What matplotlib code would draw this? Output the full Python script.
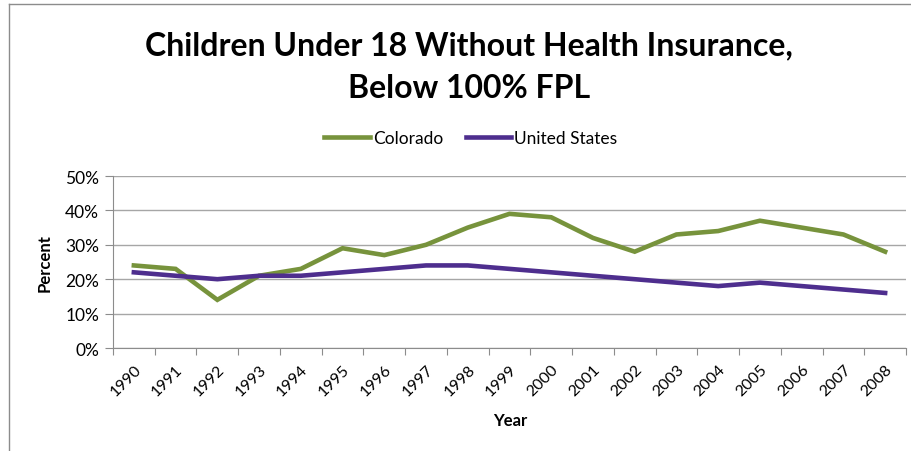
import matplotlib
matplotlib.use('Agg')
import matplotlib.pyplot as plt
import matplotlib.transforms as mtransforms
from matplotlib.lines import Line2D

years = [str(y) for y in range(1990, 2009)]
colorado = [24, 23, 14, 21, 23, 29, 27, 30, 35, 39, 38, 32, 28, 33, 34, 37, 35, 33, 28]
united_states = [22, 21, 20, 21, 21, 22, 23, 24, 24, 23, 22, 21, 20, 19, 18, 19, 18, 17, 16]
y_ticks = [0, 10, 20, 30, 40, 50]

plt.rcParams['font.family'] = ['Lato', 'DejaVu Sans']

W, H = 911, 452
fig = plt.figure(figsize=(W / 100, H / 100), dpi=100)

# outer chart frame (cropped on right/bottom like the screenshot)
fig.add_artist(Line2D([9 / W, 9 / W], [0, 1 - 5 / H], transform=fig.transFigure,
                      color='#8c8c8c', lw=1))
fig.add_artist(Line2D([9 / W, 1], [1 - 5 / H, 1 - 5 / H], transform=fig.transFigure,
                      color='#8c8c8c', lw=1))

left, right, top, bottom = 113, 906, 177, 349
ax = fig.add_axes([left / W, 1 - bottom / H, (right - left) / W, (bottom - top) / H])

x = list(range(len(years)))
ax.plot(x, colorado, color='#77933C', lw=3.3, solid_joinstyle='miter', label='Colorado', zorder=3)
ax.plot(x, united_states, color='#4E2E8E', lw=3.3, solid_joinstyle='miter', label='United States', zorder=3)

ax.set_xlim(-0.5, len(years) - 0.5)
ax.set_ylim(0, 50)
ax.set_yticks(y_ticks)
ax.set_yticklabels([f'{v}%' for v in y_ticks], fontsize=12.5)
ax.yaxis.grid(True, color='#a6a6a6', lw=1)
ax.set_axisbelow(True)

ax.set_xticks([i - 0.5 for i in range(len(years) + 1)], minor=False)
ax.set_xticklabels([])
ax.set_xticks(x, minor=True)
ax.set_xticklabels(years, minor=True, rotation=45, ha='right', va='top',
                   rotation_mode='anchor', fontsize=11.5)
shift = mtransforms.ScaledTranslation(5 / 100, 0, fig.dpi_scale_trans)
for lab in ax.get_xticklabels(minor=True):
    lab.set_transform(lab.get_transform() + shift)
ax.tick_params(axis='x', which='major', length=5, color='#8c8c8c', direction='out')
ax.tick_params(axis='x', which='minor', length=0, pad=10)
ax.tick_params(axis='y', length=6, color='#8c8c8c', pad=4)

for s in ['top', 'right']:
    ax.spines[s].set_visible(False)
for s in ['left', 'bottom']:
    ax.spines[s].set_color('#8c8c8c')

fig.text(45 / W, 1 - 263 / H, 'Percent', rotation=90, ha='center', va='center',
         fontsize=12, fontweight='bold')
fig.text(510 / W, 1 - 421 / H, 'Year', ha='center', va='center',
         fontsize=12, fontweight='bold')

fig.text(469 / W, 1 - 46 / H, 'Children Under 18 Without Health Insurance,',
         ha='center', va='center', fontsize=23, fontweight='bold')
fig.text(469 / W, 1 - 88 / H, 'Below 100% FPL',
         ha='center', va='center', fontsize=23, fontweight='bold')

fig.legend(loc='center', bbox_to_anchor=(471 / W, 1 - 139 / H), ncol=2, frameon=False,
           fontsize=12.5, handlelength=2.6, columnspacing=1.3, handletextpad=0.2)

fig.savefig('out.png', dpi=100)
